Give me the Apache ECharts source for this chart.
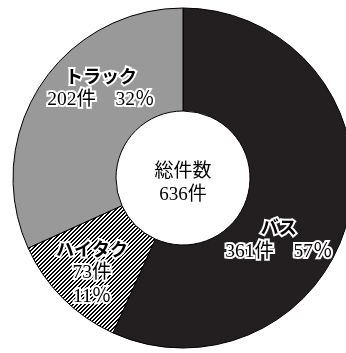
<!DOCTYPE html>
<html><head><meta charset="utf-8">
<script src="https://cdn.jsdelivr.net/npm/echarts@6/dist/echarts.min.js"></script>
<style>html,body{margin:0;padding:0;background:#fff}#c{width:346px;height:353px}</style>
</head><body><div id="c"></div>
<script>
const categories = ['バス', 'ハイタク', 'トラック'];
const counts = [361, 73, 202];
const percents = [57, 11, 32];
const totalLabel = '総件数';
const total = 636;

// crisp diagonal hatch pattern
const pc = document.createElement('canvas');
pc.width = 4; pc.height = 4;
const g = pc.getContext('2d');
g.fillStyle = '#fff'; g.fillRect(0,0,4,4);
g.fillStyle = '#000';
for (let y = 0; y < 4; y++) for (let x = 0; x < 4; x++) {
  if ((x + y) % 4 < 2) g.fillRect(x, y, 1, 1);
}

const styles = {
  'バス': {color: '#231f20', offset: [-23, 36], lines: 2},
  'ハイタク': {color: {image: pc, repeat: 'repeat'}, offset: [-5, 9], lines: 3},
  'トラック': {color: '#999999', offset: [20, -24], lines: 2}
};

const serif = '"Liberation Serif","Noto Sans CJK JP",serif';
const data = categories.map((n, i) => ({
  name: n, value: counts[i],
  itemStyle: {color: styles[n].color},
  label: {
    offset: styles[n].offset,
    formatter: styles[n].lines === 3
      ? '{n|' + n + '}\n{v|' + counts[i] + '件}\n{v|' + percents[i] + '％}'
      : '{n|' + n + '}\n{v|' + counts[i] + '件　' + percents[i] + '％}'
  }
}));

const chart = echarts.init(document.getElementById('c'), null, {renderer: 'canvas'});
chart.setOption({
  animation: false,
  series: [{
    type: 'pie',
    center: [183, 178],
    radius: [67, 170],
    startAngle: 90,
    clockwise: true,
    silent: true,
    itemStyle: {borderColor: '#000', borderWidth: 1},
    label: {
      show: true, position: 'inside', color: '#000',
      textBorderColor: '#fff', textBorderWidth: 4,
      rich: {
        n: {fontFamily: '"Noto Sans CJK JP",sans-serif', fontWeight: 'bold', fontSize: 18, color: '#000',
            textBorderColor: '#fff', textBorderWidth: 4, lineHeight: 24, align: 'center'},
        v: {fontFamily: serif, fontSize: 19.5, color: '#000',
            textBorderColor: '#fff', textBorderWidth: 4, lineHeight: 24, align: 'center'}
      }
    },
    labelLine: {show: false},
    data: data
  }],
  graphic: [{
    type: 'text',
    x: 183, y: 184,
    style: {text: totalLabel + '\n' + total + '件', font: '19px ' + serif,
            fill: '#000', align: 'center', verticalAlign: 'middle', lineHeight: 23}
  }]
});
</script></body></html>
